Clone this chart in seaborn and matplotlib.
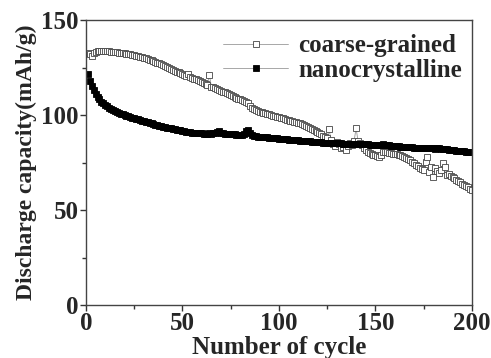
import numpy as np
import pandas as pd
import seaborn as sns
import matplotlib
matplotlib.use("Agg")
from matplotlib import pyplot as plt
from matplotlib.ticker import MultipleLocator

# cycle numbers
cycles = list(range(1, 201))

# discharge capacity (mAh/g)
coarse_grained = [
    132.8, 132.0, 131.0, 132.5, 133.2, 133.5, 133.7, 133.7, 133.6, 133.6,
    133.5, 133.5, 133.4, 133.3, 133.2, 133.0, 132.9, 132.7, 132.6, 132.4,
    132.2, 132.0, 131.9, 131.7, 131.5, 131.2, 131.0, 130.7, 130.4, 130.1,
    129.8, 129.5, 129.1, 128.8, 128.4, 128.0, 127.6, 127.2, 126.8, 126.3,
    125.9, 125.3, 124.7, 124.1, 123.6, 123.2, 122.8, 122.4, 122.0, 121.6,
    121.0, 120.4, 121.8, 119.8, 119.5, 119.2, 118.8, 118.3, 117.8, 117.3,
    116.8, 116.3, 115.9, 121.0, 115.0, 114.5, 114.0, 113.6, 113.2, 112.8,
    112.3, 111.9, 111.4, 111.0, 110.5, 110.1, 109.6, 109.2, 108.7, 108.3,
    107.9, 107.5, 107.0, 106.4, 104.5, 103.5, 103.0, 102.5, 102.1, 101.8,
    101.5, 101.2, 100.9, 100.6, 100.3, 100.0, 99.7, 99.4, 99.1, 98.8,
    98.5, 98.2, 97.9, 97.6, 97.4, 97.1, 96.8, 96.5, 96.2, 95.9,
    95.6, 95.2, 94.8, 94.3, 93.8, 93.2, 92.6, 92.0, 91.5, 91.0,
    90.4, 89.8, 89.2, 88.6, 88.0, 92.5, 87.0, 84.5, 83.5, 86.0,
    85.0, 82.5, 83.0, 84.8, 81.5, 83.5, 85.5, 84.0, 86.5, 93.0,
    86.5, 85.5, 84.0, 82.5, 81.5, 80.5, 80.0, 79.6, 79.2, 78.8,
    78.4, 78.0, 79.0, 80.5, 80.7, 80.3, 80.0, 79.8, 79.6, 79.5,
    79.3, 79.1, 78.8, 78.4, 78.0, 77.6, 77.0, 76.2, 75.3, 74.5,
    73.7, 73.0, 72.2, 71.5, 71.0, 75.5, 78.0, 70.0, 72.5, 67.5,
    72.0, 70.5, 69.5, 71.0, 75.0, 72.5, 68.4, 69.0, 68.0, 67.5,
    66.8, 66.0, 65.4, 64.6, 63.8, 63.2, 62.6, 61.9, 61.2, 60.3,
]
nanocrystalline = [
    121.5, 118.0, 115.2, 113.0, 111.2, 109.6, 108.2, 107.1, 106.2, 105.4,
    104.6, 103.9, 103.3, 102.7, 102.2, 101.7, 101.2, 100.8, 100.4, 100.0,
    99.6, 99.3, 99.0, 98.6, 98.3, 98.0, 97.7, 97.4, 97.1, 96.8,
    96.5, 96.2, 95.9, 95.6, 95.3, 95.0, 94.7, 94.4, 94.2, 93.9,
    93.7, 93.4, 93.2, 93.0, 92.7, 92.5, 92.3, 92.1, 91.9, 91.7,
    91.5, 91.3, 91.1, 91.0, 90.8, 90.7, 90.6, 90.5, 90.4, 90.3,
    90.2, 90.2, 90.1, 90.6, 90.2, 90.3, 90.5, 91.0, 91.5, 90.8,
    90.4, 90.2, 90.1, 90.0, 89.9, 89.8, 89.8, 89.7, 89.7, 89.6,
    89.6, 90.2, 91.5, 92.0, 90.5, 89.3, 89.0, 88.8, 88.7, 88.6,
    88.5, 88.4, 88.3, 88.2, 88.1, 88.0, 87.9, 87.8, 87.7, 87.6,
    87.5, 87.4, 87.3, 87.2, 87.1, 87.0, 86.9, 86.8, 86.7, 86.6,
    86.5, 86.4, 86.3, 86.3, 86.2, 86.1, 86.0, 85.9, 85.9, 85.8,
    85.7, 85.6, 85.5, 85.5, 85.4, 85.4, 85.3, 85.3, 85.2, 85.2,
    85.1, 85.1, 85.0, 85.0, 84.9, 84.9, 84.8, 84.8, 84.8, 84.7,
    84.7, 84.7, 84.6, 84.6, 84.5, 84.5, 84.4, 84.4, 84.3, 84.3,
    84.3, 84.2, 84.2, 84.5, 84.2, 84.1, 84.0, 83.9, 83.8, 83.7,
    83.6, 83.5, 83.4, 83.3, 83.4, 83.2, 83.1, 83.0, 83.0, 82.9,
    82.8, 82.8, 82.7, 82.7, 82.6, 82.6, 82.5, 82.5, 82.4, 82.4,
    82.3, 82.5, 82.6, 82.3, 82.1, 82.0, 81.9, 81.8, 81.6, 81.5,
    81.4, 81.3, 81.2, 81.1, 81.0, 80.9, 80.8, 80.6, 80.5, 80.4,
]

df = pd.DataFrame({"cycle": cycles,
                   "coarse": coarse_grained,
                   "nano": nanocrystalline})

sns.set_style("ticks")
plt.rcParams["font.family"] = ["Liberation Serif", "DejaVu Serif"]
plt.rcParams["font.weight"] = "bold"

fig = plt.figure(figsize=(4.91, 3.58), dpi=100)
ax = fig.add_axes([0.175, 0.148, 0.786, 0.796])

#coarse-grained: open squares, thin gray line
sns.lineplot(data=df, x="cycle", y="coarse", ax=ax, color="#999999",
             lw=0.6, marker="s", markersize=3.8, markerfacecolor="white",
             markeredgecolor="#444444", markeredgewidth=0.6,
             label="coarse-grained")
#nanocrystalline: filled black squares
sns.lineplot(data=df, x="cycle", y="nano", ax=ax, color="#999999",
             lw=0.6, marker="s", markersize=4.2, markerfacecolor="black",
             markeredgecolor="black", markeredgewidth=0.6,
             label="nanocrystalline")

ax.set_xlim(0, 200)
ax.set_ylim(0, 150)
ax.xaxis.set_major_locator(MultipleLocator(50))
ax.xaxis.set_minor_locator(MultipleLocator(25))
ax.yaxis.set_major_locator(MultipleLocator(50))
ax.yaxis.set_minor_locator(MultipleLocator(25))
ax.tick_params(which="major", direction="out", length=4, width=1,
               labelsize=18, pad=1, color="#333333")
ax.tick_params(which="minor", direction="out", length=3, width=1,
               color="#333333")
for lab in ax.get_xticklabels() + ax.get_yticklabels():
    lab.set_fontweight("bold")
for s in ax.spines.values():
    s.set_color("#444444")
    s.set_linewidth(1.0)

ax.set_xlabel("Number of cycle", fontsize=18, fontweight="bold", labelpad=1)
ax.set_ylabel("Discharge capacity(mAh/g)", fontsize=17, fontweight="bold",
              labelpad=3)

leg = ax.legend(loc="upper right", frameon=False, fontsize=18,
                handlelength=2.6, handletextpad=0.4, labelspacing=0.05,
                borderaxespad=0.0, bbox_to_anchor=(1.0, 0.985))
for t in leg.get_texts():
    t.set_fontweight("bold")

fig.savefig("out.png", dpi=100)
